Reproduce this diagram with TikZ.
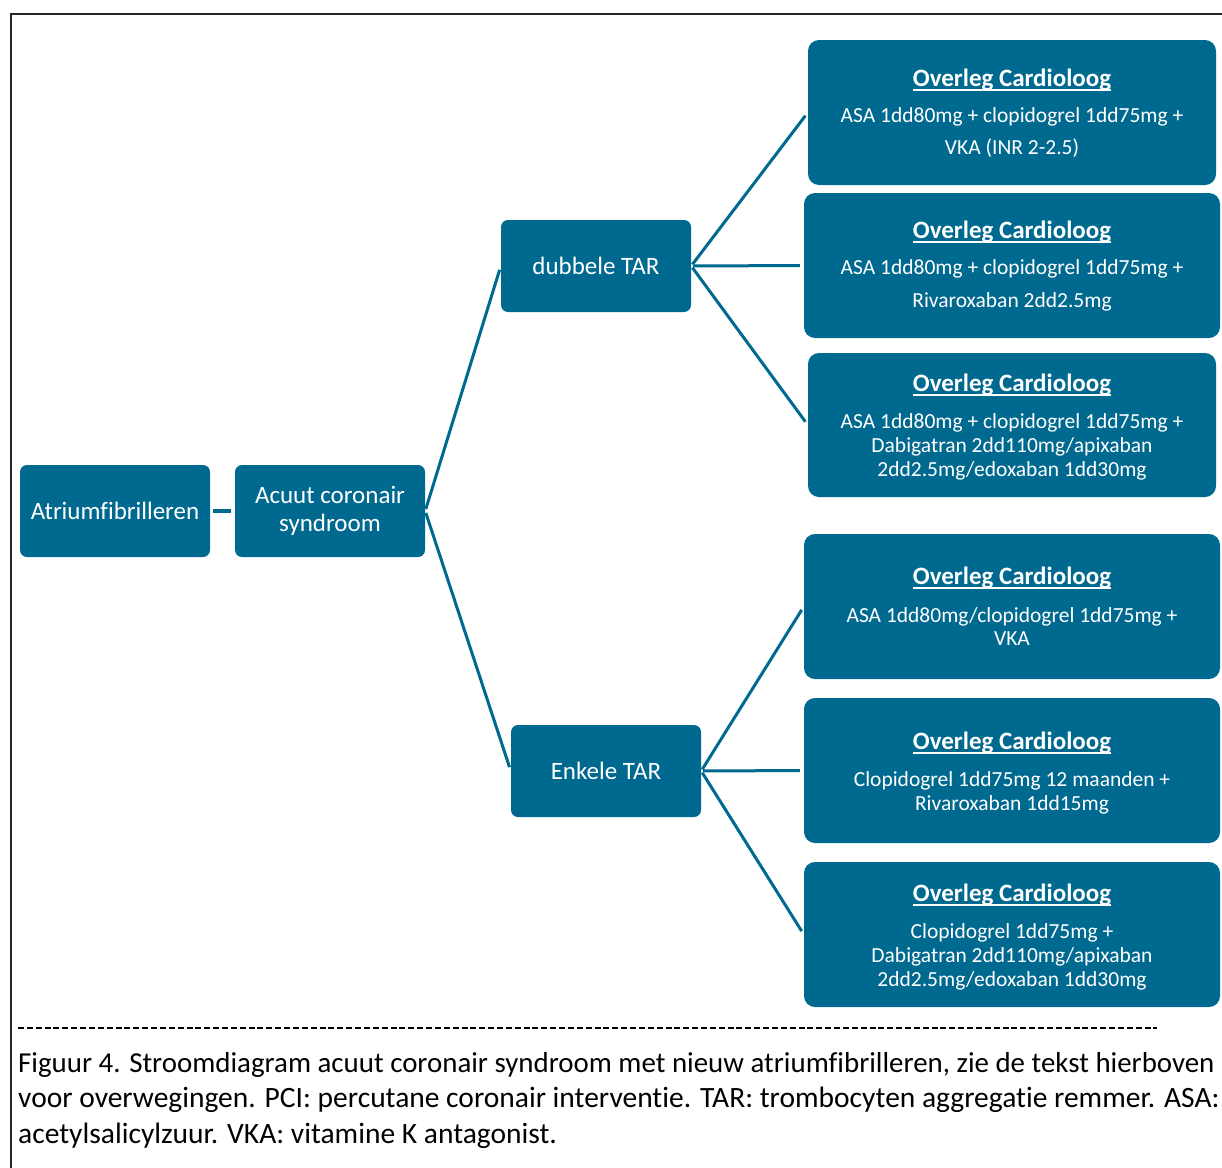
\documentclass[tikz,border=0pt]{standalone}
\usepackage{fontspec}
\setmainfont{Carlito}[Ligatures={TeX,NoCommon}]
\usetikzlibrary{calc}
\definecolor{flow}{RGB}{0,105,143}
% underline set close to the baseline, as a word processor draws it
\newcommand\headul[1]{\setbox0\hbox{#1}\rlap{\rule[-4.3pt]{\wd0}{2pt}}\box0}
\begin{document}
\begin{tikzpicture}[x=1pt,y=-1pt,
  box/.style={rectangle, rounded corners=7pt, fill=flow, text=white,
    minimum width=190pt, minimum height=92pt, inner sep=0pt,
    font=\fontsize{25}{28}\selectfont, align=center},
  rbox/.style={rectangle, rounded corners=11pt, fill=flow,
    minimum height=145pt, inner sep=0pt},
  head/.style={anchor=base, text=white, inner sep=0pt,
    font=\fontsize{25}{30}\selectfont\bfseries},
  body/.style={anchor=base, text=white, inner sep=0pt,
    font=\fontsize{21.5}{24}\selectfont},
  link/.style={draw=flow, line width=3pt, shorten >=4pt, shorten <=2pt},
  caption/.style={anchor=base west, inner sep=0pt,
    font=\fontsize{29.5}{35.5}\selectfont}]

\useasboundingbox (0,0) rectangle (1222,1167);
\clip (0,0) rectangle (1222,1167);

% page frame (continues past the right and bottom edges)
\draw[line width=2pt, black!85] (1240,13.5) -- (10.5,13.5) -- (10.5,1180);

% main chain
\node[box] (af)  at (115,511) {Atriumfibrilleren};
\node[box] (acs) at (330,511) {Acuut coronair\\syndroom};
\node[box] (dt)  at (596,266) {dubbele TAR};
\node[box] (et)  at (606,771) {Enkele TAR};

% treatment boxes
\node[rbox, minimum width=408pt] (r1) at (1012,112.5) {};
\node[rbox, minimum width=416pt] (r2) at (1012,265.5) {};
\node[rbox, minimum width=408pt, minimum height=144pt] (r3) at (1012,425) {};
\node[rbox, minimum width=416pt] (r4) at (1012,606.5) {};
\node[rbox, minimum width=416pt] (r5) at (1012,770.5) {};
\node[rbox, minimum width=416pt] (r6) at (1012,934.5) {};

% connectors
\draw[flow, line width=4pt, shorten >=4pt, shorten <=3pt] (af.east) -- (acs.west);
\draw[link] (acs.east) -- (dt.west);
\draw[link] (acs.east) -- (et.west);
\draw[link] (dt.east) -- (r1.west);
\draw[link] (dt.east) -- (r2.west);
\draw[link] (dt.east) -- (r3.west);
\draw[link] (et.east) -- (r4.west);
\draw[link] (et.east) -- (r5.west);
\draw[link] (et.east) -- (r6.west);

% texts of the treatment boxes
\node[head] (h1) at (1012,86.5) {\headul{Overleg Cardioloog}};
\node[body] (b1a) at (1012,122) {ASA 1dd80mg + clopidogrel 1dd75mg +};
\node[body] (b1b) at (1012,154) {VKA (INR 2-2.5)};

\node[head] (h2) at (1012,238.5) {\headul{Overleg Cardioloog}};
\node[body] (b2a) at (1012,274) {ASA 1dd80mg + clopidogrel 1dd75mg +};
\node[body] (b2b) at (1012,307) {Rivaroxaban 2dd2.5mg};

\node[head] (h3) at (1012,391.5) {\headul{Overleg Cardioloog}};
\node[body] (b3a) at (1012,428) {ASA 1dd80mg + clopidogrel 1dd75mg +};
\node[body] (b3b) at (1012,452) {Dabigatran 2dd110mg/apixaban};
\node[body] (b3c) at (1012,476) {2dd2.5mg/edoxaban 1dd30mg};

\node[head] (h4) at (1012,584.5) {\headul{Overleg Cardioloog}};
\node[body] (b4a) at (1012,622) {ASA 1dd80mg/clopidogrel 1dd75mg +};
\node[body] (b4b) at (1012,645) {VKA};

\node[head] (h5) at (1012,749.5) {\headul{Overleg Cardioloog}};
\node[body] (b5a) at (1012,786) {Clopidogrel 1dd75mg 12 maanden +};
\node[body] (b5b) at (1012,810) {Rivaroxaban 1dd15mg};

\node[head] (h6) at (1012,901.5) {\headul{Overleg Cardioloog}};
\node[body] (b6a) at (1012,938) {Clopidogrel 1dd75mg +};
\node[body] (b6b) at (1012,962) {Dabigatran 2dd110mg/apixaban};
\node[body] (b6c) at (1012,986) {2dd2.5mg/edoxaban 1dd30mg};

% separator and caption
\draw[line width=2pt, dash pattern=on 6pt off 2.87pt] (18,1028) -- (1157,1028);
\node[caption, font=\fontsize{28.9}{35.5}\selectfont] (c1) at (18,1072) {Figuur 4. Stroomdiagram acuut coronair syndroom met nieuw atriumfibrilleren, zie de tekst hierboven};
\node[caption] (c2) at (18,1107.5) {voor overwegingen. PCI: percutane coronair interventie. TAR: trombocyten aggregatie remmer. ASA:};
\node[caption] (c3) at (18,1143) {acetylsalicylzuur. VKA: vitamine K antagonist.};
\end{tikzpicture}
\end{document}
